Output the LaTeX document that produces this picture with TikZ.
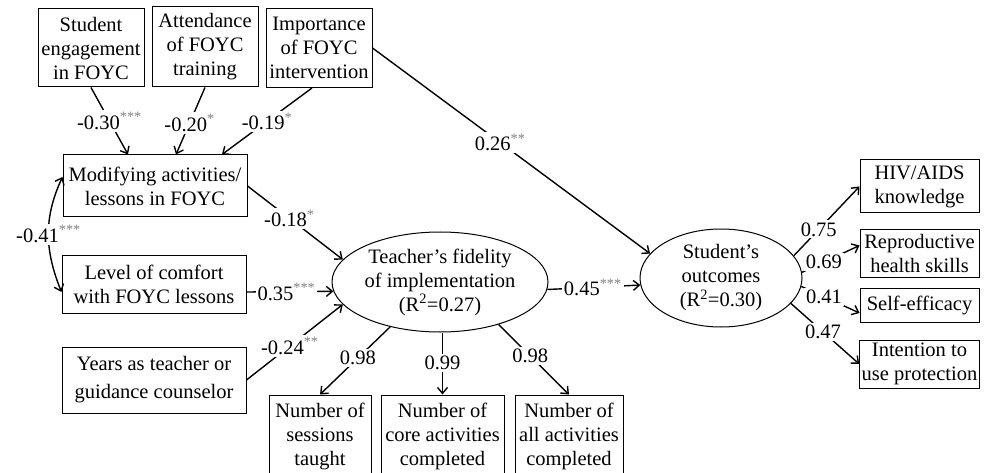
\documentclass[tikz,border=0pt]{standalone}
\usepackage{fontspec}
\setmainfont{Liberation Serif}
\usetikzlibrary{arrows.meta,shapes.geometric}
\newcommand{\sig}[1]{\textsuperscript{\textcolor{gray}{#1}}}
\tikzset{
    box/.style = {draw, line width=1pt, align=center, inner sep=2pt},
    lat/.style = {draw, ellipse, line width=1pt, align=center, inner sep=0pt},
    arr/.style = {->, line width=1.4pt},
    lbl/.style = {fill=white, inner sep=2pt},
    >={Straight Barb[length=6pt,width=10pt]}
}
\begin{document}
\begin{tikzpicture}[x=1pt, y=-1pt, font=\fontsize{20.5}{24}\selectfont]
                \useasboundingbox (0,0) rectangle (985,473);
                \node[box, minimum width=106, minimum height=78] (eng) at (91,48) {Student\\engagement\\in FOYC};
                \node[box, minimum width=106, minimum height=80] (att) at (205,47) {Attendance\\of FOYC\\training};
                \node[box, minimum width=106, minimum height=79] (imp) at (319,48) {Importance\\of FOYC\\intervention};
                \node[box, minimum width=184, minimum height=62] (mod) at (155,186) {Modifying activities/\\lessons in FOYC};
                \node[box, minimum width=184, minimum height=58] (lvl) at (154,284) {Level of comfort\\with FOYC lessons};
                \node[box, minimum width=184, minimum height=66] (yrs) at (154,380) {Years as teacher or\\[4pt]guidance counselor};
                \node[lat, minimum width=216, minimum height=100] (tf) at (440,282) {Teacher’s fidelity\\of implementation\\(R\textsuperscript{2}=0.27)};
                \node[lat, minimum width=162, minimum height=98] (so) at (721,278) {Student’s\\outcomes\\(R\textsuperscript{2}=0.30)};
                \node[box, minimum width=119, minimum height=53] (hiv) at (919.5,186.5) {HIV/AIDS\\knowledge};
                \node[box, minimum width=119, minimum height=47] (rep) at (919.5,253.5) {Reproductive\\health skills};
                \node[box, minimum width=119, minimum height=34] (eff) at (919.5,305) {Self-efficacy};
                \node[box, minimum width=119, minimum height=48] (int) at (919.5,364) {Intention to\\use protection};
                \node[box, minimum width=102, minimum height=82] (ses) at (320,436) {Number of\\sessions\\taught};
                \node[box, minimum width=123, minimum height=82] (core) at (442.5,436) {Number of\\core activities\\completed};
                \node[box, minimum width=108, minimum height=82] (all) at (569,436) {Number of\\all activities\\completed};
                \draw[arr] (eng.south) -- node[lbl, pos=.5] {-0.30\sig{***}} ([xshift=-27]mod.north);
                \draw[arr] (att.south) -- node[lbl, pos=.53] {-0.20\sig{*}} ([xshift=21]mod.north);
                \draw[arr] ([xshift=-7]imp.south) -- node[lbl, pos=.5] {-0.19\sig{*}} ([xshift=67]mod.north);
                \draw[arr] (imp.east) -- node[lbl, pos=.46] {0.26\sig{**}} (so.161);
                \draw[<->, line width=1.4pt] ([yshift=9]mod.west) to[out=245, in=112] node[lbl] {-0.41\sig{***}} ([yshift=-8]lvl.west);
                \draw[arr] (mod.east) -- node[lbl, pos=.44] {-0.18\sig{*}} (tf.167);
                \draw[arr] ([yshift=-8]lvl.east) -- node[lbl, pos=.46] {0.35\sig{***}} (tf.185);
                \draw[arr] (yrs.east) -- node[lbl, pos=.45] {-0.24\sig{**}} (tf.193);
                \draw[arr] (tf.222) -- node[lbl, pos=.46] {0.98} (ses.north);
                \draw[arr] (core.north |- tf.south) -- node[lbl, pos=.49] {0.99} (core.north);
                \draw[arr] (tf.-36) -- node[lbl, pos=.45] {0.98} (all.north);
                \draw[arr] (tf.-4) -- node[lbl, pos=.49] {0.45\sig{***}} (so.185);
                \draw[arr] (so.17) -- node[lbl, pos=.38] {0.75} (hiv.west);
                \draw[arr] (so.4) -- node[lbl, pos=.38] {0.69} ([yshift=8]rep.west);
                \draw[arr] (so.-6) -- node[lbl, pos=.39] {0.41} ([yshift=-8]eff.west);
                \draw[arr] (so.-20) -- node[lbl, pos=.47] {0.47} (int.west);
            \end{tikzpicture}
\end{document}
